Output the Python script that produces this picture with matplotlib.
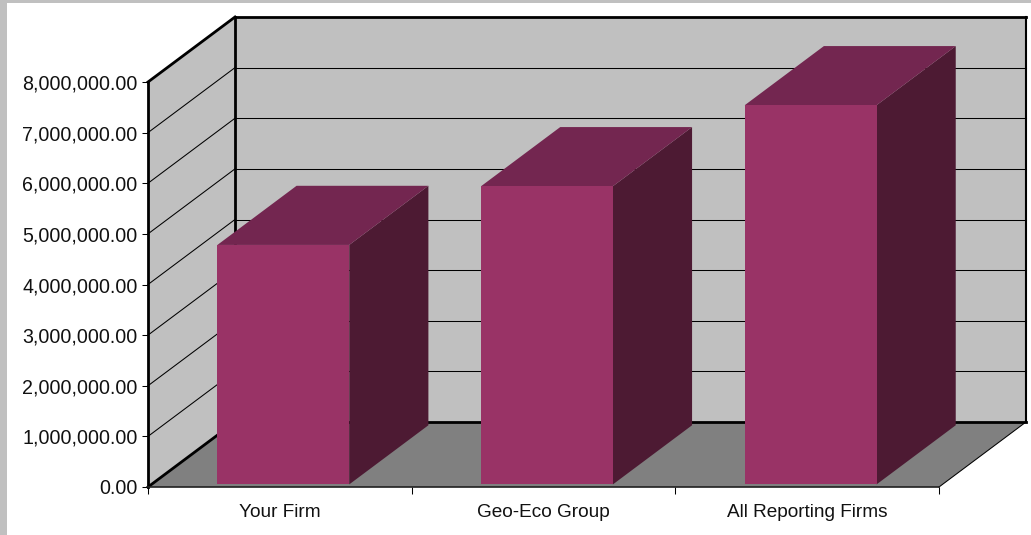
import matplotlib
matplotlib.use("Agg")
import matplotlib.pyplot as plt
from matplotlib.patches import Polygon, Rectangle
from matplotlib.ticker import FuncFormatter, FixedLocator, NullFormatter

categories = ["Your Firm", "Geo-Eco Group", "All Reporting Firms"]
values = [4730000, 5890000, 7490000]
y_ticks = [0, 1000000, 2000000, 3000000, 4000000, 5000000, 6000000, 7000000, 8000000]

W, H = 1031, 535
plt.rcParams['font.family'] = ['Liberation Sans', 'DejaVu Sans']
fig = plt.figure(figsize=(W / 100, H / 100), dpi=100, facecolor='white')

# outer frame of the picture
fig.add_artist(Rectangle((0, 0), 7 / W, 1, transform=fig.transFigure, color='#C0C0C0', lw=0))
fig.add_artist(Rectangle((0, 1 - 3 / H), 1, 3 / H, transform=fig.transFigure, color='#C0C0C0', lw=0))

L, R, T, B = 148, 939, 82, 487
ax = fig.add_axes([L / W, 1 - B / H, (R - L) / W, (B - T) / H])
ax.set_xlim(0, len(categories))
ax.set_ylim(0, 8000000)
ax.patch.set_visible(False)

# oblique depth vector of the 3D box, in data units
DX = 87 / ((R - L) / len(categories))
DY = 65 / ((B - T) / 8000000)
n = len(categories)
ymax = y_ticks[-1]

def P(x, y, d=0.0):
    return (x + DX * d, y + DY * d)

def poly(pts, color, z, **kw):
    ax.add_patch(Polygon(pts, closed=True, facecolor=color, edgecolor='none', lw=0,
                         zorder=z, clip_on=False, **kw))

def line(a, b, lw, z, color='black'):
    ax.plot([a[0], b[0]], [a[1], b[1]], color=color, lw=lw, zorder=z, clip_on=False,
            solid_capstyle='projecting')

poly([P(0, 0), P(0, ymax), P(0, ymax, 1), P(0, 0, 1)], '#C0C0C0', 1)
poly([P(0, 0, 1), P(0, ymax, 1), P(n, ymax, 1), P(n, 0, 1)], '#C0C0C0', 1)
poly([P(0, 0), P(n, 0), P(n, 0, 1), P(0, 0, 1)], '#808080', 1)

for v in y_ticks[1:-1]:
    line(P(0, v), P(0, v, 1), 0.75, 2)
    line(P(0, v, 1), P(n, v, 1), 0.75, 2)

line(P(0, ymax), P(0, ymax, 1), 2.0, 3)
line(P(0, 0), P(0, 0, 1), 2.0, 3)
line(P(0, 0, 1), P(0, ymax, 1), 2.0, 3)
line(P(0, ymax, 1), P(n, ymax, 1), 2.0, 3)
line(P(0, 0, 1), P(n, 0, 1), 2.0, 3)
line(P(n, 0, 1), P(n, ymax, 1), 1.5, 3)
line(P(n, 0), P(n, 0, 1), 0.75, 3)

D0, D1 = 0.04, 0.95
half = 0.25
for i, v in enumerate(values):
    c = i + 0.5
    a, b = c - half, c + half
    poly([P(b, 0, D0), P(b, v, D0), P(b, v, D1), P(b, 0, D1)], '#4D1A33', 4 + i)
    poly([P(a, v, D0), P(b, v, D0), P(b, v, D1), P(a, v, D1)], '#732650', 4 + i)
    poly([P(a, 0, D0), P(b, 0, D0), P(b, v, D0), P(a, v, D0)], '#993366', 4 + i)

for s in ('top', 'right'):
    ax.spines[s].set_visible(False)
ax.spines['left'].set_linewidth(2.0)
ax.spines['bottom'].set_linewidth(1.2)
ax.spines['bottom'].set_color('#202020')
ax.spines['left'].set_zorder(10)
ax.spines['bottom'].set_zorder(10)

ax.yaxis.set_major_locator(FixedLocator(y_ticks))
ax.yaxis.set_major_formatter(FuncFormatter(lambda v, _: f"{v:,.2f}"))
ax.tick_params(axis='y', length=4.2, width=0.75, pad=3.2, labelsize=14.1, labelcolor='#111111')
ax.xaxis.set_major_locator(FixedLocator(list(range(n + 1))))
ax.xaxis.set_major_formatter(NullFormatter())
ax.xaxis.set_minor_locator(FixedLocator([i + 0.5 for i in range(n)]))
ax.set_xticklabels(categories, minor=True)
ax.tick_params(axis='x', which='major', length=4.8, width=0.75)
ax.tick_params(axis='x', which='minor', length=0, pad=12, labelsize=13.7, labelcolor='#111111')

fig.savefig('out.png', dpi=100)
